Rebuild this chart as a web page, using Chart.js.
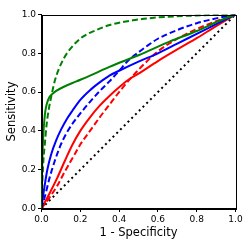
<!DOCTYPE html>
<html>
<head>
<meta charset="utf-8">
<script src="https://cdn.jsdelivr.net/npm/chart.js@4"></script>
<style>
  html, body { margin: 0; padding: 0; background: #fff; }
  #roc { display: block; }
</style>
</head>
<body>
<canvas id="roc" width="249" height="249"></canvas>
<script>
// ROC curves, values
var greenSolidX = [0, 0.003, 0.008, 0.017, 0.034, 0.06, 0.11, 0.18, 0.25, 0.35, 0.5, 0.66, 0.8, 0.9, 1];
var greenSolidY = [0, 0.2, 0.35, 0.48, 0.56, 0.594, 0.625, 0.655, 0.685, 0.73, 0.79, 0.86, 0.915, 0.96, 1];

var greenDashX = [0, 0.005, 0.01, 0.017, 0.026, 0.039, 0.052, 0.069, 0.111, 0.163, 0.214, 0.283, 0.352, 0.47, 0.6, 0.8, 1];
var greenDashY = [0, 0.15, 0.25, 0.33, 0.43, 0.52, 0.585, 0.66, 0.766, 0.84, 0.886, 0.92, 0.946, 0.97, 0.985, 0.995, 1];

var blueSolidX = [0, 0.005, 0.015, 0.03, 0.05, 0.075, 0.1, 0.13, 0.16, 0.2, 0.25, 0.3, 0.35, 0.4, 0.5, 0.6, 0.7, 0.8, 0.9, 1];
var blueSolidY = [0, 0.04, 0.11, 0.2, 0.28, 0.35, 0.405, 0.46, 0.505, 0.56, 0.61, 0.65, 0.685, 0.71, 0.757, 0.8, 0.85, 0.9, 0.95, 1];

var blueDashX = [0, 0.017, 0.043, 0.07, 0.1, 0.13, 0.165, 0.2, 0.25, 0.3, 0.35, 0.4, 0.45, 0.5, 0.55, 0.6, 0.7, 0.8, 0.9, 1];
var blueDashY = [0, 0.06, 0.163, 0.25, 0.33, 0.39, 0.445, 0.49, 0.55, 0.605, 0.655, 0.71, 0.765, 0.805, 0.842, 0.875, 0.92, 0.955, 0.98, 1];

var redSolidX = [0, 0.04, 0.08, 0.12, 0.16, 0.2, 0.25, 0.3, 0.35, 0.4, 0.45, 0.5, 0.6, 0.7, 0.8, 0.9, 1];
var redSolidY = [0, 0.075, 0.155, 0.245, 0.33, 0.4, 0.47, 0.53, 0.58, 0.625, 0.665, 0.695, 0.76, 0.82, 0.878, 0.94, 1];

var redDashX = [0, 0.04, 0.08, 0.12, 0.16, 0.2, 0.25, 0.3, 0.35, 0.4, 0.45, 0.5, 0.55, 0.6, 0.7, 0.8, 0.9, 1];
var redDashY = [0, 0.055, 0.115, 0.19, 0.26, 0.33, 0.4, 0.47, 0.535, 0.6, 0.66, 0.715, 0.765, 0.81, 0.875, 0.925, 0.965, 1];

var chanceX = [0, 1];
var chanceY = [0, 1];

var tickValues = [0, 0.2, 0.4, 0.6, 0.8, 1.0];

function pts(xs, ys) {
  var out = [];
  for (var i = 0; i < xs.length; i++) {
    out.push({x: xs[i], y: ys[i]});
  }
  return out;
}

function curve(xs, ys, color, dash) {
  return {
    data: pts(xs, ys),
    borderColor: color,
    borderWidth: 2,
    borderDash: dash,
    borderCapStyle: 'butt',
    pointRadius: 0,
    showLine: true,
    fill: false,
    cubicInterpolationMode: 'monotone'
  };
}

// draws the full box round the plot, like the matplotlib spines
var framePlugin = {
  id: 'frame',
  afterDraw: function(chart) {
    var a = chart.chartArea;
    var ctx = chart.ctx;
    ctx.save();
    ctx.strokeStyle = '#000';
    ctx.lineWidth = 1;
    ctx.strokeRect(Math.round(a.left) + 0.5, Math.round(a.top) + 0.5,
                   Math.round(a.right - a.left), Math.round(a.bottom - a.top));
    ctx.restore();
  }
};

var font = 'DejaVu Sans';
var tickOpts = {
  color: '#000',
  font: {family: font, size: 9},
  padding: 2,
  autoSkip: false,
  callback: function(v) { return Number(v).toFixed(1); }
};

var ctx = document.getElementById('roc');
var rocChart = new Chart(ctx, {
  type: 'scatter',
  data: {
    datasets: [
      curve(greenSolidX, greenSolidY, '#008000', []),
      curve(greenDashX, greenDashY, '#008000', [6, 3]),
      curve(blueSolidX, blueSolidY, '#0000ff', []),
      curve(blueDashX, blueDashY, '#0000ff', [6, 3]),
      curve(redSolidX, redSolidY, '#ff0000', []),
      curve(redDashX, redDashY, '#ff0000', [6, 3]),
      curve(chanceX, chanceY, '#000000', [2, 3.3])
    ]
  },
  options: {
    responsive: false,
    animation: false,
    events: [],
    layout: {padding: {top: 14.5, right: 13.5, left: 0, bottom: 0}},
    plugins: {legend: {display: false}, tooltip: {enabled: false}},
    scales: {
      x: {
        type: 'linear',
        min: 0,
        max: 1,
        afterBuildTicks: function(s) { s.ticks = tickValues.map(function(v) { return {value: v}; }); },
        afterFit: function(s) { s.height = 40.5; },
        ticks: tickOpts,
        grid: {display: true, drawOnChartArea: false, drawTicks: true, tickLength: 3.5, color: '#000'},
        border: {display: true, color: '#000', width: 1},
        title: {display: true, text: '1 - Specificity', color: '#000', font: {family: font, size: 11.5}, padding: {top: 2, bottom: 9}}
      },
      y: {
        type: 'linear',
        min: 0,
        max: 1,
        afterBuildTicks: function(s) { s.ticks = tickValues.map(function(v) { return {value: v}; }); },
        afterFit: function(s) { s.width = 41.5; },
        ticks: tickOpts,
        grid: {display: true, drawOnChartArea: false, drawTicks: true, tickLength: 3.5, color: '#000'},
        border: {display: true, color: '#000', width: 1},
        title: {display: true, text: 'Sensitivity', color: '#000', font: {family: font, size: 11.5}, padding: {top: 5, bottom: 2}}
      }
    }
  },
  plugins: [framePlugin]
});
</script>
</body>
</html>
